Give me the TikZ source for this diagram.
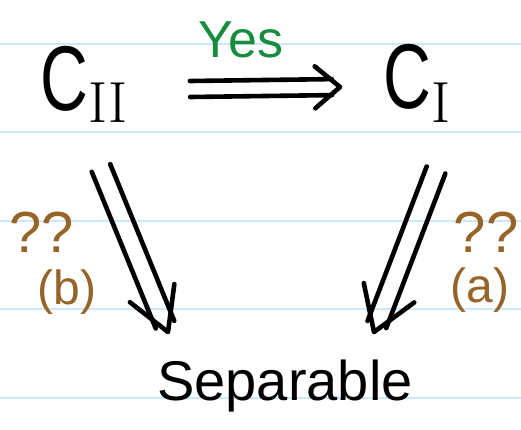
\documentclass[tikz,border=0pt]{standalone}
\usepackage{fontspec}
\newfontfamily\hand{Liberation Sans}
\usetikzlibrary{calc}
\definecolor{paper}{RGB}{205,232,250}
\definecolor{yesgreen}{RGB}{22,140,62}
\definecolor{qbrown}{RGB}{150,100,40}
\tikzset{
  paperline/.style={draw=paper, line width=1.5pt},
  pen/.style={line width=4.6pt, line cap=round, line join=round},
  lbl/.style={inner sep=0pt, anchor=base, font=\hand},
}
% #1 tail, #2 tip, #3 half gap, #4 head length, #5 head half width
\newcommand\dblarr[5]{%
  \draw[pen] ($(#1)!#3!90:(#2)$) -- ($($(#2)!8pt!(#1)$)!#3!-90:(#1)$);
  \draw[pen] ($(#1)!#3!-90:(#2)$) -- ($($(#2)!8pt!(#1)$)!#3!90:(#1)$);
  \draw[pen] ($($(#2)!#4!(#1)$)!#5!-90:(#1)$) -- (#2) -- ($($(#2)!#4!(#1)$)!#5!90:(#1)$);
}
\begin{document}
\begin{tikzpicture}[x=1pt,y=-1pt]
\useasboundingbox (0,0) rectangle (521,429);
\foreach \yy in {44,132,221,309,398} \draw[paperline] (0,\yy) -- (521,\yy);

\node[inner sep=0pt, anchor=base west] (cII) at (40,110)
  {\hand\fontsize{92}{92}\selectfont\scalebox{0.72}[1]{C}\raisebox{-12pt}{\fontsize{58}{58}\selectfont\rmfamily II}};
\node[inner sep=0pt, anchor=base west] (cI) at (383,108)
  {\hand\fontsize{92}{92}\selectfont\scalebox{0.72}[1]{C}\raisebox{-14pt}{\fontsize{58}{58}\selectfont\rmfamily I}};
\node[lbl, text=yesgreen, font=\hand\fontsize{52}{52}\selectfont] (yes) at (241,57) {Yes};
\node[lbl, font=\hand\fontsize{56}{56}\selectfont] (sep) at (285,400) {Separable};

\node[lbl, text=qbrown, font=\hand\fontsize{58}{58}\selectfont] (qb) at (42,252) {??};
\node[lbl, text=qbrown, font=\hand\fontsize{48}{48}\selectfont] (lb) at (67,304) {(b)};
\node[lbl, text=qbrown, font=\hand\fontsize{58}{58}\selectfont] (qa) at (486,252) {??};
\node[lbl, text=qbrown, font=\hand\fontsize{48}{48}\selectfont] (la) at (480,302) {(a)};

\coordinate (topTail) at (190,89);
\coordinate (topTip) at (340,87);
\coordinate (bTail) at (101,168);
\coordinate (bTip) at (168,332);
\coordinate (aTail) at (436,170);
\coordinate (aTip) at (374,332);

\dblarr{topTail}{topTip}{8pt}{25pt}{21pt}
\dblarr{bTail}{bTip}{10pt}{42pt}{24pt}
\dblarr{aTail}{aTip}{10pt}{42pt}{27pt}
\end{tikzpicture}
\end{document}
